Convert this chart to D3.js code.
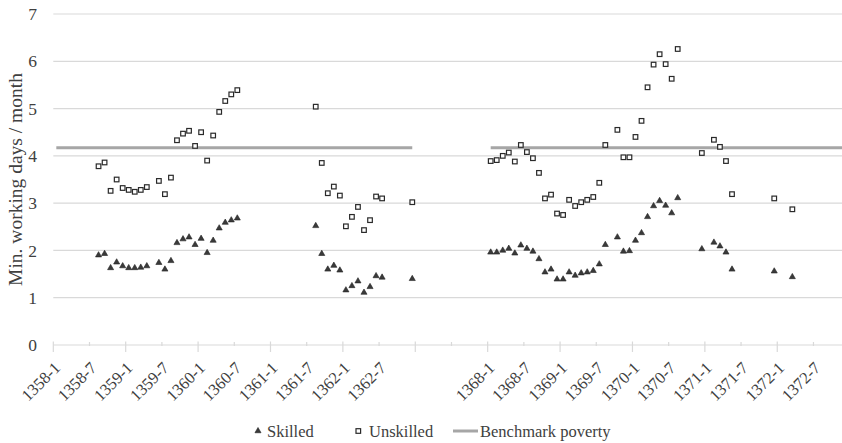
<!DOCTYPE html>
<html>
<head>
<meta charset="utf-8">
<script src="https://cdn.jsdelivr.net/npm/d3@7"></script>
<style>
  html, body { margin: 0; padding: 0; background: #fff; }
  svg { display: block; }
  text { font-family: "Liberation Serif", "DejaVu Serif", serif; fill: #404040; }
</style>
</head>
<body>
<svg id="chart" width="842" height="443"></svg>
<script>
// ---------------- data ----------------
const yearsA = [1358, 1359, 1360, 1361, 1362];
const yearsB = [1368, 1369, 1370, 1371, 1372];
const gapLength = 12;   // blank categories between the two periods

const tickLabels = ["1358-1","1358-7","1359-1","1359-7","1360-1","1360-7","1361-1","1361-7","1362-1","1362-7",
                    "","",
                    "1368-1","1368-7","1369-1","1369-7","1370-1","1370-7","1371-1","1371-7","1372-1","1372-7"];

const skilled = [
  ["1358-8",1.90],["1358-9",1.93],["1358-10",1.63],["1358-11",1.75],["1358-12",1.67],["1359-1",1.63],["1359-2",1.63],
  ["1359-3",1.64],["1359-4",1.67],["1359-6",1.74],["1359-7",1.60],["1359-8",1.78],["1359-9",2.16],["1359-10",2.24],
  ["1359-11",2.28],["1359-12",2.12],["1360-1",2.25],["1360-2",1.95],["1360-3",2.21],["1360-4",2.47],["1360-5",2.59],
  ["1360-6",2.64],["1360-7",2.68],
  ["1361-8",2.52],["1361-9",1.93],["1361-10",1.60],["1361-11",1.68],["1361-12",1.58],["1362-1",1.16],["1362-2",1.25],
  ["1362-3",1.35],["1362-4",1.11],["1362-5",1.23],["1362-6",1.46],["1362-7",1.43],["1362-12",1.40],
  ["1368-1",1.96],["1368-2",1.96],["1368-3",2.00],["1368-4",2.04],["1368-5",1.94],["1368-6",2.11],["1368-7",2.04],
  ["1368-8",1.98],["1368-9",1.82],["1368-10",1.54],["1368-11",1.60],["1368-12",1.39],["1369-1",1.39],["1369-2",1.54],
  ["1369-3",1.47],["1369-4",1.52],["1369-5",1.54],["1369-6",1.57],["1369-7",1.71],["1369-8",2.12],["1369-10",2.28],
  ["1369-11",1.98],["1369-12",1.99],["1370-1",2.21],["1370-2",2.37],["1370-3",2.71],["1370-4",2.94],["1370-5",3.05],
  ["1370-6",2.95],["1370-7",2.79],["1370-8",3.11],["1370-12",2.03],["1371-2",2.17],["1371-3",2.09],["1371-4",1.96],
  ["1371-5",1.60],["1371-12",1.56],["1372-3",1.44]
];

const unskilled = [
  ["1358-8",3.78],["1358-9",3.86],["1358-10",3.26],["1358-11",3.50],["1358-12",3.32],["1359-1",3.28],["1359-2",3.24],
  ["1359-3",3.28],["1359-4",3.34],["1359-6",3.47],["1359-7",3.19],["1359-8",3.54],["1359-9",4.33],["1359-10",4.47],
  ["1359-11",4.53],["1359-12",4.21],["1360-1",4.50],["1360-2",3.90],["1360-3",4.43],["1360-4",4.93],["1360-5",5.16],
  ["1360-6",5.30],["1360-7",5.39],
  ["1361-8",5.04],["1361-9",3.85],["1361-10",3.21],["1361-11",3.35],["1361-12",3.16],["1362-1",2.51],["1362-2",2.71],
  ["1362-3",2.92],["1362-4",2.43],["1362-5",2.64],["1362-6",3.14],["1362-7",3.10],["1362-12",3.02],
  ["1368-1",3.89],["1368-2",3.91],["1368-3",4.00],["1368-4",4.07],["1368-5",3.88],["1368-6",4.23],["1368-7",4.08],
  ["1368-8",3.95],["1368-9",3.64],["1368-10",3.10],["1368-11",3.18],["1368-12",2.78],["1369-1",2.75],["1369-2",3.07],
  ["1369-3",2.94],["1369-4",3.02],["1369-5",3.07],["1369-6",3.13],["1369-7",3.43],["1369-8",4.23],["1369-10",4.55],
  ["1369-11",3.97],["1369-12",3.97],["1370-1",4.40],["1370-2",4.74],["1370-3",5.45],["1370-4",5.93],["1370-5",6.15],
  ["1370-6",5.94],["1370-7",5.63],["1370-8",6.26],["1370-12",4.06],["1371-2",4.34],["1371-3",4.19],["1371-4",3.89],
  ["1371-5",3.19],["1371-12",3.10],["1372-3",2.87]
];

const benchmarkValue = 4.17;
const benchmarkSegments = [["1358-1","1362-12"],["1368-1","1372-12"]];

const yTicks = [0,1,2,3,4,5,6,7];

// ---------------- categories ----------------
const months = ys => ys.flatMap(yr => d3.range(1, 13).map(m => `${yr}-${m}`));
const categories = [
  ...months(yearsA),
  ...d3.range(gapLength).map(i => `gap-${i}`),
  ...months(yearsB)
];

// ---------------- layout ----------------
const svg = d3.select("#chart");
const plotLeft = 53.3, plotTop = 14, plotBottom = 345;
const step = 6.033;
const plotRight = plotLeft + step * categories.length;

const x = d3.scaleBand().domain(categories).range([plotLeft, plotRight]).padding(0);
const cx = c => x(c) + x.bandwidth() / 2;
const y = d3.scaleLinear().domain([0, 7]).range([plotBottom, plotTop]);

// gridlines
svg.append("g").selectAll("line")
  .data(yTicks.filter(v => v > 0))
  .join("line")
  .attr("x1", plotLeft).attr("x2", 842)
  .attr("y1", d => y(d)).attr("y2", d => y(d))
  .attr("stroke", "#d9d9d9").attr("stroke-width", 1.2);

// y axis labels
svg.append("g").selectAll("text")
  .data(yTicks)
  .join("text")
  .attr("x", 37).attr("y", d => y(d))
  .attr("dy", "0.35em")
  .attr("text-anchor", "end")
  .style("font-size", "17.5px")
  .text(d => d);

// y axis title
svg.append("text")
  .attr("transform", `translate(22,${(plotTop + plotBottom) / 2}) rotate(-90)`)
  .attr("text-anchor", "middle")
  .style("font-size", "19.5px")
  .text("Min. working days / month");

// x axis
const tickCats = categories.filter((c, i) => i % 6 === 0);
const xAxis = svg.append("g");
xAxis.append("line")
  .attr("x1", plotLeft).attr("x2", 842)
  .attr("y1", plotBottom).attr("y2", plotBottom)
  .attr("stroke", "#d9d9d9").attr("stroke-width", 1.2);
xAxis.selectAll("line.tick")
  .data(tickCats)
  .join("line")
  .attr("class", "tick")
  .attr("x1", d => x(d)).attr("x2", d => x(d))
  .attr("y1", (d, i) => i % 2 === 0 ? plotBottom - 3.5 : plotBottom - 3)
  .attr("y2", (d, i) => i % 2 === 0 ? plotBottom + 7 : plotBottom + 1)
  .attr("stroke", "#d9d9d9").attr("stroke-width", 1.2);
xAxis.selectAll("text")
  .data(tickCats)
  .join("text")
  .attr("transform", d => `translate(${x(d) + 8},${plotBottom + 24}) rotate(-45)`)
  .attr("text-anchor", "end")
  .style("font-size", "16.5px")
  .text((d, i) => tickLabels[i] || "");

// benchmark line
svg.append("g").selectAll("line")
  .data(benchmarkSegments)
  .join("line")
  .attr("x1", d => cx(d[0])).attr("x2", d => cx(d[1]))
  .attr("y1", y(benchmarkValue)).attr("y2", y(benchmarkValue))
  .attr("stroke", "#a6a6a6").attr("stroke-width", 3);

// markers
const tri = d3.symbol().type(d3.symbolTriangle).size(16);
svg.append("g").selectAll("path")
  .data(skilled)
  .join("path")
  .attr("d", tri)
  .attr("transform", d => `translate(${cx(d[0])},${y(d[1])})`)
  .attr("fill", "#3a3a3a").attr("stroke", "#222").attr("stroke-width", 0.6);

svg.append("g").selectAll("rect")
  .data(unskilled)
  .join("rect")
  .attr("x", d => cx(d[0]) - 2.3).attr("y", d => y(d[1]) - 2.3)
  .attr("width", 4.6).attr("height", 4.6)
  .attr("fill", "#fff").attr("stroke", "#2a2a2a").attr("stroke-width", 1.2);

// legend
const lg = svg.append("g");
const ly = 431;
lg.append("path").attr("d", tri).attr("transform", `translate(258,${ly})`)
  .attr("fill", "#3a3a3a").attr("stroke", "#222").attr("stroke-width", 0.6);
lg.append("text").attr("x", 267).attr("y", ly).attr("dy", "0.35em").style("font-size", "16.5px").text("Skilled");
lg.append("rect").attr("x", 356).attr("y", ly - 2.3).attr("width", 4.6).attr("height", 4.6)
  .attr("fill", "#fff").attr("stroke", "#2a2a2a").attr("stroke-width", 1.2);
lg.append("text").attr("x", 369).attr("y", ly).attr("dy", "0.35em").style("font-size", "16.5px").text("Unskilled");
lg.append("line").attr("x1", 453).attr("x2", 478).attr("y1", ly).attr("y2", ly)
  .attr("stroke", "#a6a6a6").attr("stroke-width", 3);
lg.append("text").attr("x", 480).attr("y", ly).attr("dy", "0.35em").style("font-size", "16.5px").text("Benchmark poverty");
</script>
</body>
</html>
